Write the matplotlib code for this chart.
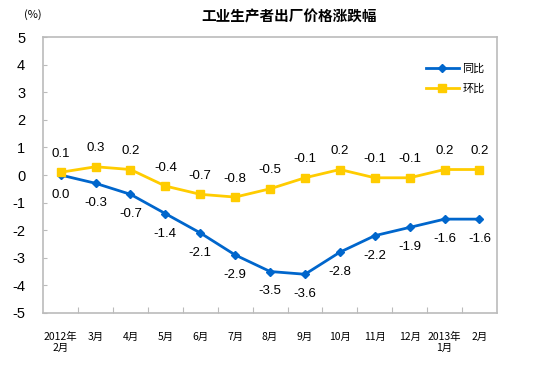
import matplotlib
matplotlib.use('Agg')
import matplotlib.pyplot as plt

plt.rcParams['font.family'] = ['Noto Sans CJK SC', 'DejaVu Sans']

months = ['2012年\n2月', '3月', '4月', '5月', '6月', '7月', '8月', '9月',
          '10月', '11月', '12月', '2013年\n1月', '2月']
yoy = [0.0, -0.3, -0.7, -1.4, -2.1, -2.9, -3.5, -3.6, -2.8, -2.2, -1.9, -1.6, -1.6]
mom = [0.1, 0.3, 0.2, -0.4, -0.7, -0.8, -0.5, -0.1, 0.2, -0.1, -0.1, 0.2, 0.2]

num_font = ['Liberation Sans', 'DejaVu Sans']

fig = plt.figure(figsize=(5.54, 3.72), dpi=100)
ax = fig.add_axes([0.078, 0.159, 0.819, 0.741])

x = list(range(len(months)))
ax.plot(x, yoy, color='#0066CC', lw=2, marker='D', ms=4.5, label='同比')
ax.plot(x, mom, color='#FFCC00', lw=2, marker='s', ms=6, label='环比')

# data labels: 同比 below, 环比 above
for i in x:
    ax.annotate(f'{yoy[i]:.1f}', (i, yoy[i]), xytext=(0, -10), textcoords='offset points',
                ha='center', va='top', fontsize=9.5, family=num_font)
    ax.annotate(f'{mom[i]:.1f}', (i, mom[i]), xytext=(0, 9), textcoords='offset points',
                ha='center', va='bottom', fontsize=9.5, family=num_font)

ax.set_xlim(-0.5, len(months) - 0.5)
ax.set_ylim(-5, 5)
ax.set_yticks(range(-5, 6))
ax.set_yticklabels([str(v) for v in range(-5, 6)], fontsize=10.5, family=num_font)
ax.set_xticks([i + 0.5 for i in range(len(months) - 1)])
ax.set_xticklabels([])
ax.set_xticks(x, minor=True)
ax.set_xticklabels(months, minor=True, fontsize=7.5, linespacing=1.1)
ax.tick_params(axis='x', which='minor', length=0, pad=14)
ax.tick_params(axis='x', which='major', direction='in', length=4, color='#BBBBBB')
ax.tick_params(axis='y', direction='in', length=3, color='#BBBBBB', pad=13)

for s in ['top', 'right', 'left', 'bottom']:
    ax.spines[s].set_color('#BBBBBB')
    ax.spines[s].set_linewidth(1.2)

ax.legend(loc='upper right', bbox_to_anchor=(0.995, 0.94), frameon=False, fontsize=8,
          handlelength=3, labelspacing=0.9, handletextpad=0.3)

fig.text(0.522, 0.955, '工业生产者出厂价格涨跌幅', ha='center', va='center', fontsize=10.5, fontweight='bold')
fig.text(0.06, 0.96, '(%)', ha='center', va='center', fontsize=8)

fig.savefig('out.png', dpi=100)
